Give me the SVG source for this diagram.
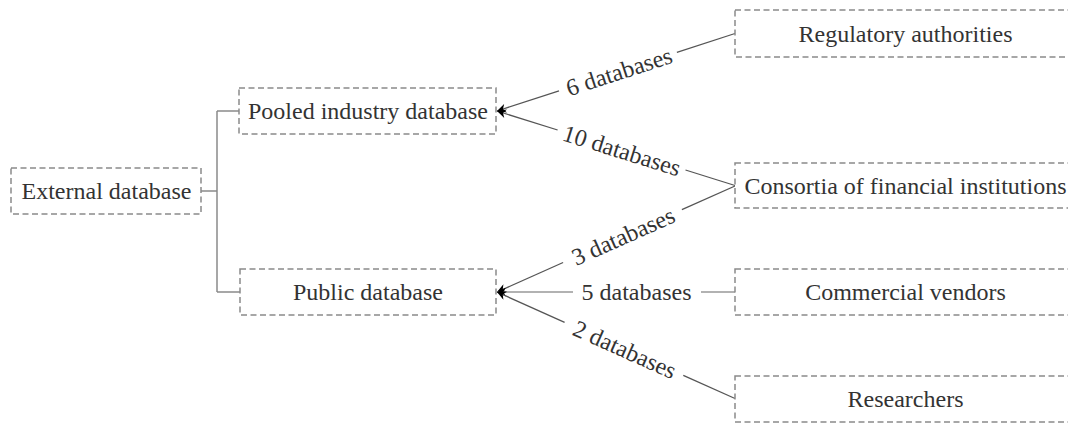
<svg xmlns="http://www.w3.org/2000/svg" width="1068" height="423" viewBox="0 0 1068 423">
<style>
  .box { fill: #ffffff; stroke: #8a8a8a; stroke-width: 1.5; stroke-dasharray: 6 3.5; }
  .ntext { font-family: 'Liberation Serif', 'DejaVu Serif', serif; font-size: 24px; fill: #333333; text-anchor: middle; }
  .ltext { font-family: 'Liberation Serif', 'DejaVu Serif', serif; font-size: 24px; fill: #333333; text-anchor: middle; }
  .tree { fill: none; stroke: #8a8a8a; stroke-width: 1.5; }
  .conn { fill: none; stroke: #555555; stroke-width: 1.3; }
  .hconn { fill: none; stroke: #999999; stroke-width: 1.5; }
</style>
<defs>
  <marker id="arrow" viewBox="0 0 10 10" refX="10" refY="5" markerWidth="10" markerHeight="9" markerUnits="userSpaceOnUse" orient="auto-start-reverse">
    <path d="M0,0 L10,5 L0,10 L3,5 Z" fill="#000000"/>
  </marker>
</defs>
<rect width="1068" height="423" fill="#ffffff"/>

<g id="connectors">
  <path class="tree" d="M201,191 H217 M217,111 V292 M217,111 H239 M217,292 H240"/>
  <line class="conn" x1="497" y1="111" x2="559" y2="90.8" marker-start="url(#arrow)"/>
  <line class="conn" x1="676.9" y1="52.4" x2="735" y2="33.5"/>
  <text class="ltext" transform="translate(619,71.3) rotate(-18.04)" dy="8.5">6 databases</text>
  <line class="conn" x1="497" y1="111" x2="557.6" y2="130" marker-start="url(#arrow)"/>
  <line class="conn" x1="685.5" y1="170" x2="735" y2="185.5"/>
  <text class="ltext" transform="translate(622,150.2) rotate(17.38)" dy="8.5">10 databases</text>
  <line class="conn" x1="497" y1="292" x2="563.1" y2="262.5" marker-start="url(#arrow)"/>
  <line class="conn" x1="681.9" y1="209.6" x2="735" y2="186"/>
  <text class="ltext" transform="translate(623,235.9) rotate(-24)" dy="8.5">3 databases</text>
  <line class="hconn" x1="497" y1="292" x2="573" y2="292" marker-start="url(#arrow)"/>
  <line class="hconn" x1="701" y1="292" x2="735" y2="292"/>
  <text class="ltext" x="636.5" y="292" dy="8">5 databases</text>
  <line class="conn" x1="497" y1="292" x2="564.6" y2="322.3" marker-start="url(#arrow)"/>
  <line class="conn" x1="683.3" y1="375.4" x2="735" y2="398.5"/>
  <text class="ltext" transform="translate(625,349.2) rotate(24.1)" dy="8.5">2 databases</text>
</g>

<g id="external">
  <rect class="box" x="11" y="168" width="190" height="46"/>
  <text class="ntext" x="106.5" y="199">External database</text>
</g>
<g id="pooled">
  <rect class="box" x="239" y="88" width="257" height="46"/>
  <text class="ntext" x="368" y="119">Pooled industry database</text>
</g>
<g id="public">
  <rect class="box" x="240" y="269" width="256" height="46"/>
  <text class="ntext" x="368" y="300">Public database</text>
</g>
<g id="regulatory">
  <rect class="box" x="735" y="10" width="341" height="47"/>
  <text class="ntext" x="905.5" y="41.5">Regulatory authorities</text>
</g>
<g id="consortia">
  <rect class="box" x="735" y="163" width="341" height="45"/>
  <text class="ntext" x="905.5" y="193.5">Consortia of financial institutions</text>
</g>
<g id="commercial">
  <rect class="box" x="735" y="269" width="341" height="46"/>
  <text class="ntext" x="905.5" y="300">Commercial vendors</text>
</g>
<g id="researchers">
  <rect class="box" x="735" y="376" width="341" height="46"/>
  <text class="ntext" x="905.5" y="407">Researchers</text>
</g>
</svg>
